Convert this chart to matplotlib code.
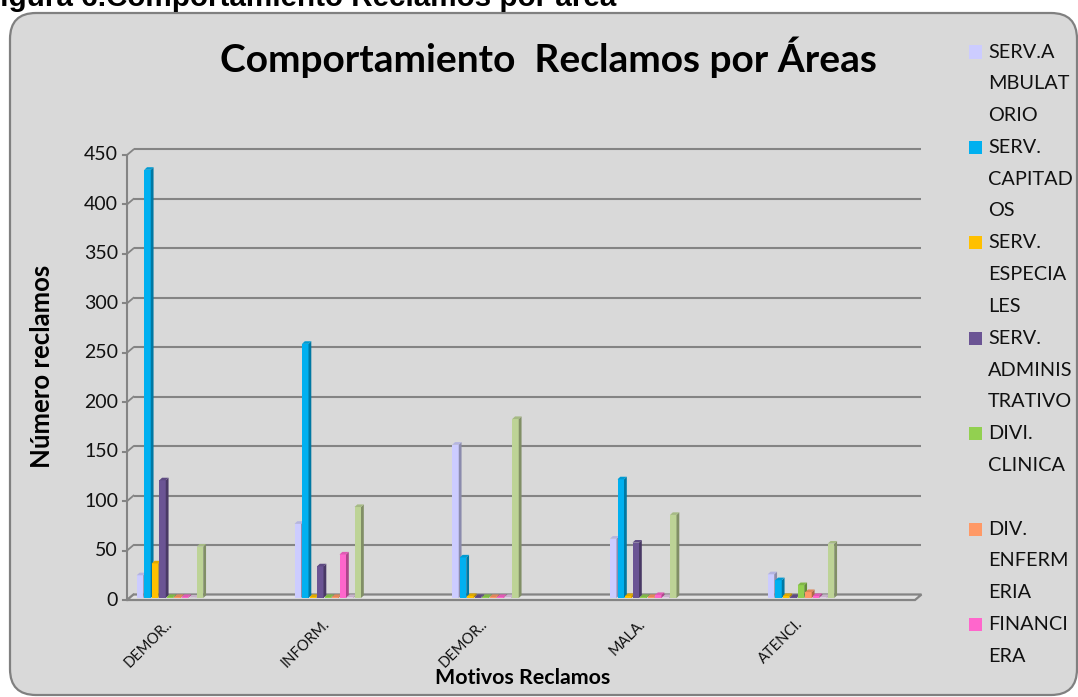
import matplotlib
matplotlib.use("Agg")
import matplotlib.pyplot as plt
import matplotlib.colors as mcolors
from matplotlib.patches import Polygon, Rectangle, FancyBboxPatch
from matplotlib.transforms import IdentityTransform, ScaledTranslation

# ---------------- data ----------------
categorias = ["DEMOR..", "INFORM.", "DEMOR..", "MALA.", "ATENCI."]

serv_ambulatorio = [23, 75, 155, 60, 24]
serv_capitados = [433, 257, 41, 120, 18]
serv_especiales = [35, 1, 2, 2, 2]
serv_administrativo = [119, 32, 1, 56, 1]
divi_clinica = [1, 1, 1, 1, 13]
div_enfermeria = [1, 1, 1, 1, 6]
financiera = [1, 44, 1, 3, 2]
otra_area_a = [0.5, 1, 1, 1, 1]
otra_area_b = [52, 92, 181, 84, 55]

nombres = ["SERV.A\nMBULAT\nORIO", "SERV.\nCAPITAD\nOS", "SERV.\nESPECIA\nLES",
           "SERV.\nADMINIS\nTRATIVO", "DIVI.\nCLINICA\n", "DIV.\nENFERM\nERIA",
           "FINANCI\nERA", None, None]
colores = ["#CCCCFF", "#00B0F0", "#FFC000", "#6B5494", "#92D050", "#FF9966",
           "#FF66CC", "#E2CBE6", "#BDD396"]
series = [serv_ambulatorio, serv_capitados, serv_especiales, serv_administrativo,
          divi_clinica, div_enfermeria, financiera, otra_area_a, otra_area_b]

y_ticks = [0, 50, 100, 150, 200, 250, 300, 350, 400, 450]

titulo = "Comportamiento  Reclamos por Áreas"
titulo_figura = "Figura 6.Comportamiento Reclamos por área"

# ---------------- figure ----------------
W, H = 1078, 697
fig = plt.figure(figsize=(W / 100, H / 100), dpi=100)
fig.patch.set_facecolor("white")

FONT = ["Lato", "DejaVu Sans"]


def fx(px):
    return px / W


def fy(py):
    return 1 - py / H


# rounded chart area (kept behind the axes)
marco = FancyBboxPatch((10, 2), 1067, 682,
                       boxstyle="round,pad=0,rounding_size=26",
                       transform=IdentityTransform(),
                       facecolor="#D9D9D9", edgecolor="#808080", linewidth=1.6,
                       zorder=-5)
fig.add_artist(marco)

# figure caption (partly above the page edge)
fig.text(fx(-18), fy(6), titulo_figura, ha="left", va="baseline",
         fontsize=21.3, fontweight="bold", family=["Liberation Sans", "DejaVu Sans"])

# plot area
X_LEFT, X_RIGHT, Y_BOTTOM, Y_TOP = 127, 915, 600, 155
ax = fig.add_axes([fx(X_LEFT), fy(Y_BOTTOM), (X_RIGHT - X_LEFT) / W, (Y_BOTTOM - Y_TOP) / H])
ax.set_zorder(2)
ax.set_facecolor("none")
for s in ax.spines.values():
    s.set_visible(False)
ax.set_xticks([])
ax.set_yticks([])

PXX = 157.75              # pixels per category
PXY = (Y_BOTTOM - Y_TOP) / 450.0
GROUP0 = 170
xl = (X_LEFT - GROUP0) / PXX
xr = (X_RIGHT - GROUP0) / PXX
ax.set_xlim(xl, xr)
ax.set_ylim(0, 450)

DX = 6.5 / PXX            # depth of the floor / back wall
DY = 5.5 / PXY
GRID = "#848484"

# back wall gridlines and left axis with perspective ticks
for v in y_ticks:
    ax.plot([xl + DX, xr + DX], [v + DY, v + DY], color=GRID, lw=1.5,
            clip_on=False, zorder=1, solid_capstyle="butt")
    ax.plot([xl - 4.5 / PXX, xl], [v, v], color=GRID, lw=1.5, clip_on=False, zorder=1)
    ax.plot([xl, xl + DX], [v, v + DY], color=GRID, lw=1.3, clip_on=False, zorder=1)
    ax.text(xl - 9 / PXX, v, str(v), ha="right", va="center", fontsize=14,
            family=FONT, color="#111111")
ax.plot([xl, xl], [0, 450], color=GRID, lw=1.5, clip_on=False, zorder=1)

# floor
piso = Polygon([(xl, 0), (xr, 0), (xr + DX, DY), (xl + DX, DY)], closed=True,
               facecolor="#E2E2E2", edgecolor=GRID, lw=1.6, clip_on=False, zorder=2)
ax.add_patch(piso)

# 3-D columns
pitch = 7.5 / PXX
bw = 6.5 / PXX
bdx = 2.8 / PXX
bdy = 2.6 / PXY
tf = ax.transData + ScaledTranslation(0, 2 / 100, fig.dpi_scale_trans)
n = len(series)
for k, (vals, col) in enumerate(zip(series, colores)):
    xs = [i + (k - (n - 1) / 2) * pitch for i in range(len(categorias))]
    rgb = mcolors.to_rgb(col)
    lado = tuple(c * 0.68 for c in rgb)
    tapa = tuple(min(1, c * 0.88) for c in rgb)
    ax.bar(xs, vals, width=bw, color=col, transform=tf, zorder=10 + k,
           linewidth=0, clip_on=False)
    for x, v in zip(xs, vals):
        x0, x1 = x - bw / 2, x + bw / 2
        ax.add_patch(Polygon([(x1, 0), (x1 + bdx, bdy), (x1 + bdx, v + bdy), (x1, v)],
                             closed=True, facecolor=lado, lw=0, transform=tf,
                             zorder=10 + k, clip_on=False))
        ax.add_patch(Polygon([(x0, v), (x1, v), (x1 + bdx, v + bdy), (x0 + bdx, v + bdy)],
                             closed=True, facecolor=tapa, lw=0, transform=tf,
                             zorder=10 + k, clip_on=False))

# category labels
for i, c in enumerate(categorias):
    ax.text(i - 5 / PXX, -17 / PXY, c, rotation=45, ha="right", va="top",
            rotation_mode="anchor", fontsize=10.5, family=FONT, color="#111111")

# titles
fig.text(fx(548), fy(72), titulo, ha="center", va="baseline", fontsize=28,
         fontweight="bold", family=FONT)
fig.text(fx(523), fy(678), "Motivos Reclamos", ha="center", va="center",
         fontsize=15.4, fontweight="bold", family=FONT)
fig.text(fx(42), fy(366), "Número reclamos", ha="center", va="center",
         rotation=90, fontsize=18.5, fontweight="bold", family=FONT)

# legend
LINE = 31.8
y_line = 52
for nombre, col in zip(nombres, colores):
    if nombre is None:
        continue
    lineas = nombre.split("\n")
    fig.add_artist(Rectangle((fx(969), fy(y_line + 6.5)), 12.5 / W, 13 / H,
                             transform=fig.transFigure, facecolor=col, lw=0))
    for ln in lineas:
        if ln:
            fig.text(fx(988), fy(y_line), ln, ha="left", va="center",
                     fontsize=14.3, family=FONT, color="#111111")
        y_line += LINE

fig.savefig("out.png", dpi=100, facecolor="white")
